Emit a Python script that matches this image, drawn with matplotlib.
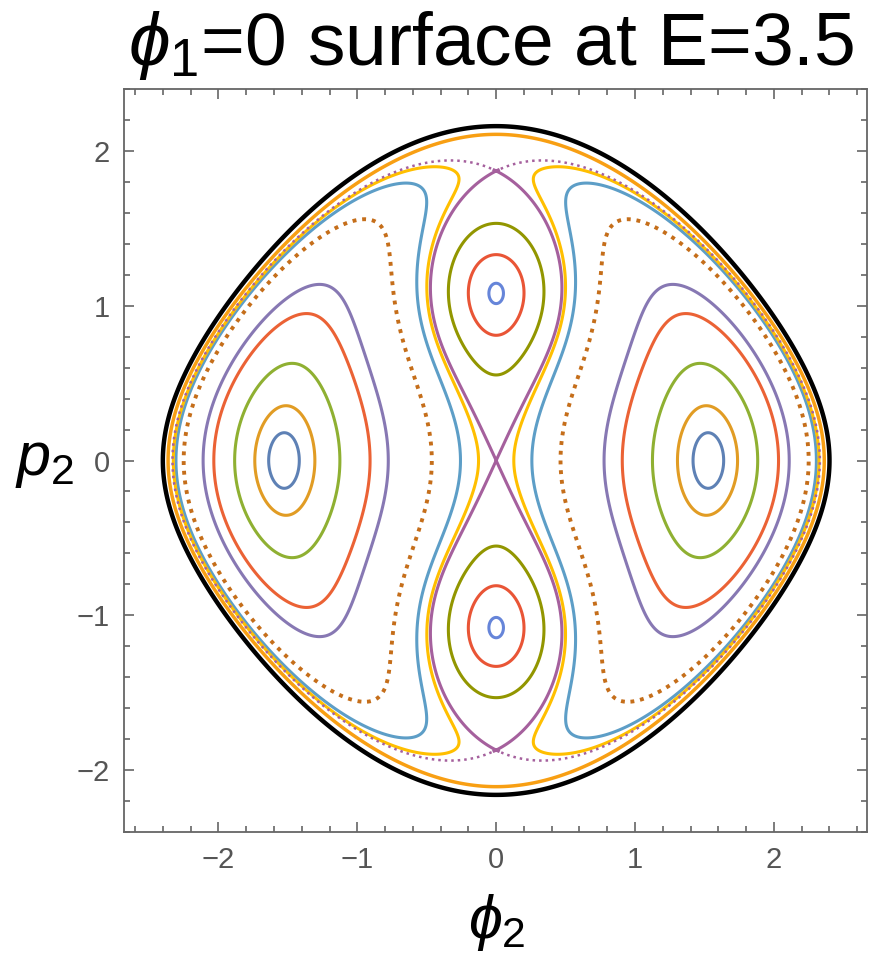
import numpy as np
import matplotlib
matplotlib.use("Agg")
import matplotlib.pyplot as plt
from matplotlib.ticker import MultipleLocator

plt.rcParams["font.family"] = ["Liberation Sans", "DejaVu Sans"]
plt.rcParams["mathtext.fontset"] = "custom"
plt.rcParams["mathtext.it"] = "Liberation Sans:italic"
plt.rcParams["mathtext.rm"] = "Liberation Sans"
plt.rcParams["mathtext.fallback"] = "stixsans"
plt.rcParams["contour.negative_linestyle"] = "solid"

# ---- values -----------------------------------------------------------
# energy boundary (black) where it meets the axes
PHI_MAX = 2.40          # phi2 at p2 = 0
P_MAX   = 2.16          # p2 at phi2 = 0

# side islands around phi2 = +-1.53 : one p2 = 0 crossing per orbit
side_cross  = [-1.638, -1.738, -1.883, -2.033, -2.110, -2.250, -0.257, -0.127]
side_colors = ["#5E81B5", "#E19C24", "#8FB032", "#EB6235", "#8778B3",
               "#C56E1A", "#5D9EC7", "#FFBF00"]
side_dotted = [False, False, False, False, False, True, False, False]

# central islands around p2 = +-1.08 : top crossing on phi2 = 0
centre_cross  = [1.145, 1.330, 1.532]
centre_colors = ["#6685D9", "#E95536", "#929600"]

# rotating orbit just inside the boundary : top crossing on phi2 = 0
outer_cross  = [2.107]
outer_colors = ["#F89F13"]

SEP_COLOR = "#A5609D"   # separatrix through (0,0) and (0,+-1.87)

# smooth invariant fitted to the section (F<0 side islands, F>0 centre/outside)
S_SEP, S_X, BETA, GAMMA = 0.972, 0.75, 0.831, 0.605
PSI_A, PSI_S = 6.15, 0.221


def invariant(phi, p):
    u2 = (np.sin(phi / 2) / np.sin(PHI_MAX / 2)) ** 2
    v2 = (p / P_MAX) ** 2
    s = u2 + v2
    f = (-u2 * (S_SEP - s) * (1 + BETA * s)
         + GAMMA * v2 * (s - S_X) ** 2
         + PSI_A * u2 * v2 * np.exp(-s / PSI_S))
    return f, s


phi = np.linspace(-2.75, 2.75, 1500)
pp  = np.linspace(-2.45, 2.45, 1500)
PHI, PP = np.meshgrid(phi, pp)
F, S = invariant(PHI, PP)
F_in = np.ma.masked_where(S > 1.0, F)

fig = plt.figure(figsize=(8.81, 9.58), dpi=100)
ax = fig.add_axes([0.1407, 0.1315, 0.8434, 0.7756])

LW = 2.2

# ── side islands ─────────────────────────────────────────────
for x0, col, dot in zip(side_cross, side_colors, side_dotted):
    lev = float(invariant(x0, 0.0)[0])
    cs = ax.contour(PHI, PP, F_in, levels=[lev], colors=[col], linewidths=LW,
                    linestyles="solid")
    if dot:
        cs.set_linestyle((0, (1.0, 1.5)))
        cs.set_linewidth(2.8)

# ── central islands ──────────────────────────────────────────
F_c = np.ma.masked_where(S > 0.7, F)
for y0, col in zip(centre_cross, centre_colors):
    lev = float(invariant(0.0, y0)[0])
    ax.contour(PHI, PP, F_c, levels=[lev], colors=[col], linewidths=LW,
               linestyles="solid")

# ── separatrix: solid around the lenses, dotted further out ─
F_lens = np.ma.masked_where(S > 0.76, F)
ax.contour(PHI, PP, F_lens, levels=[0.0], colors=[SEP_COLOR], linewidths=LW,
           linestyles="solid")
F_far = np.ma.masked_where((S <= 0.76) | (S > 1.0), F)
cs = ax.contour(PHI, PP, F_far, levels=[0.0], colors=[SEP_COLOR], linewidths=1.8)
cs.set_linestyle((0, (1.0, 1.6)))

# ── outer rotating orbit ─────────────────────────────────────
F_o = np.ma.masked_where((S < 0.8) | (S > 1.0), F)
for y0, col in zip(outer_cross, outer_colors):
    lev = float(invariant(0.0, y0)[0])
    ax.contour(PHI, PP, F_o, levels=[lev], colors=[col], linewidths=LW + 0.3,
               linestyles="solid")

# ── energy boundary ─────────────────────────────────────────
ax.contour(PHI, PP, S, levels=[1.0], colors=["black"], linewidths=3.2)

# ── frame / ticks ───────────────────────────────────────────
FRAME = "#666666"
ax.set_xlim(-2.68, 2.67)
ax.set_ylim(-2.40, 2.40)
ax.set_xticks([-2, -1, 0, 1, 2])
ax.set_yticks([-2, -1, 0, 1, 2])
ax.xaxis.set_minor_locator(MultipleLocator(0.2))
ax.yaxis.set_minor_locator(MultipleLocator(0.2))
ax.tick_params(which="both", direction="in", top=True, right=True,
               colors=FRAME, width=1.2)
ax.tick_params(which="major", length=7, labelsize=21, labelcolor="#555555", pad=10)
ax.tick_params(which="minor", length=4)
for sp in ax.spines.values():
    sp.set_color(FRAME)
    sp.set_linewidth(1.3)

fig.text(0.558, 0.953, r"$\phi_1$=0 surface at E=3.5", ha="center", va="center",
         fontsize=54)
fig.text(0.051, 0.5185, r"$p_2$", ha="center", va="center", fontsize=44)
fig.text(0.564, 0.037, r"$\phi_2$", ha="center", va="center", fontsize=44)

fig.savefig("out.png", dpi=100)
